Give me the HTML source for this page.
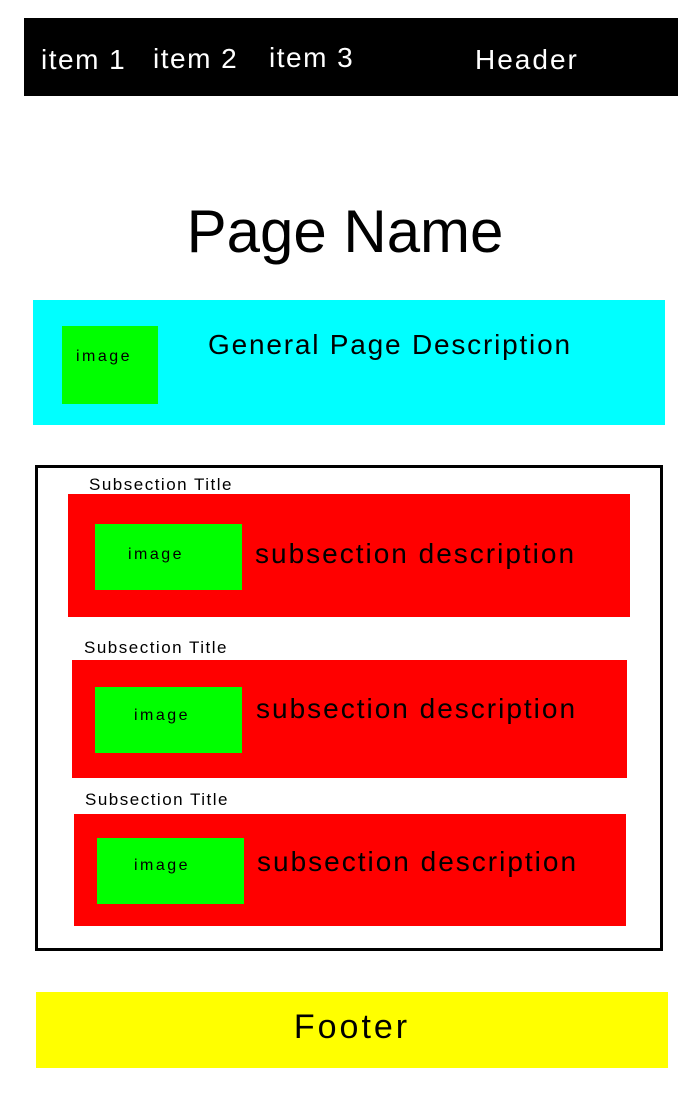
<!DOCTYPE html>
<html><head><meta charset="utf-8"><style>
body{margin:0;width:700px;height:1100px;background:#fff;position:relative;overflow:hidden;font-family:"Liberation Sans",sans-serif;}
div{position:absolute;box-sizing:border-box;}
.t{white-space:nowrap;line-height:1;}
.g{background:#00ff00;}
.r{background:#ff0000;}
.im{font-size:16px;letter-spacing:2.5px;}
.st{font-size:17px;letter-spacing:1.5px;}
.sd{font-size:28px;letter-spacing:2px;}
</style></head><body>
<div style="left:24px;top:18px;width:654px;height:78px;background:#000"></div>
<div class="t" style="left:41px;top:46px;font-size:28px;color:#fff;letter-spacing:1.5px">item 1</div>
<div class="t" style="left:153px;top:45px;font-size:28px;color:#fff;letter-spacing:1.5px">item 2</div>
<div class="t" style="left:269px;top:44px;font-size:28px;color:#fff;letter-spacing:1.5px">item 3</div>
<div class="t" style="left:475px;top:46px;font-size:28px;color:#fff;letter-spacing:2px">Header</div>

<div class="t" style="left:0;width:690px;text-align:center;top:202px;font-size:60px;color:#000">Page Name</div>

<div style="left:33px;top:300px;width:632px;height:125px;background:#00ffff"></div>
<div class="g" style="left:62px;top:326px;width:96px;height:78px"></div>
<div class="t im" style="left:76px;top:349px">image</div>
<div class="t" style="left:208px;top:331px;font-size:28px;letter-spacing:1.8px">General Page Description</div>

<div style="left:35px;top:465px;width:628px;height:486px;border:3px solid #000"></div>

<div class="t st" style="left:89px;top:476px">Subsection Title</div>
<div class="r" style="left:68px;top:494px;width:562px;height:123px"></div>
<div class="g" style="left:95px;top:524px;width:147px;height:66px"></div>
<div class="t im" style="left:128px;top:547px">image</div>
<div class="t sd" style="left:255px;top:540px">subsection description</div>

<div class="t st" style="left:84px;top:639px">Subsection Title</div>
<div class="r" style="left:72px;top:660px;width:555px;height:118px"></div>
<div class="g" style="left:95px;top:687px;width:147px;height:66px"></div>
<div class="t im" style="left:134px;top:708px">image</div>
<div class="t sd" style="left:256px;top:695px">subsection description</div>

<div class="t st" style="left:85px;top:791px">Subsection Title</div>
<div class="r" style="left:74px;top:814px;width:552px;height:112px"></div>
<div class="g" style="left:97px;top:838px;width:147px;height:66px"></div>
<div class="t im" style="left:134px;top:858px">image</div>
<div class="t sd" style="left:257px;top:848px">subsection description</div>

<div style="left:36px;top:992px;width:632px;height:76px;background:#ffff00"></div>
<div class="t" style="left:36px;width:632px;text-align:center;top:1010px;font-size:34px;letter-spacing:3px">Footer</div>
</body></html>
